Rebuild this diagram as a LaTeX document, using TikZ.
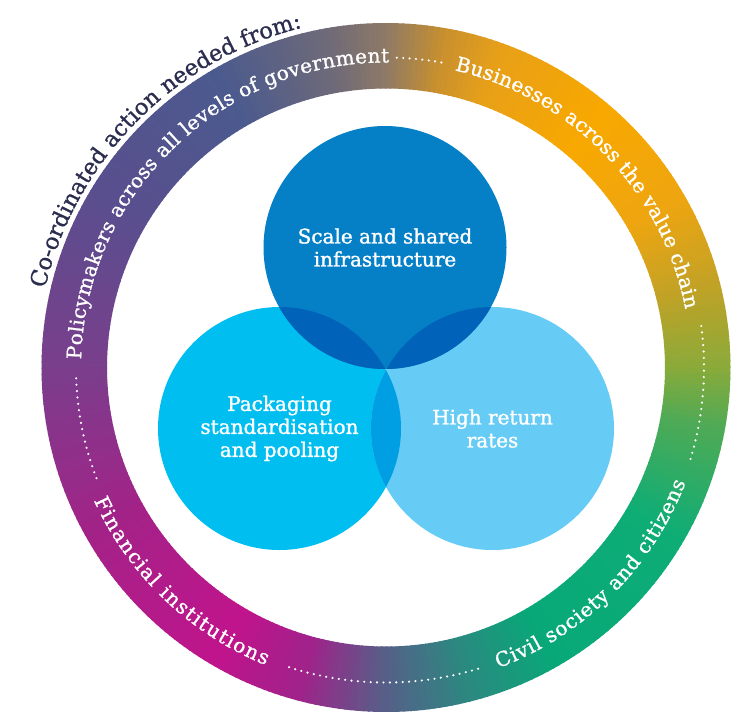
\documentclass[tikz,border=0pt]{standalone}
\usepackage{fontspec}
\usetikzlibrary{decorations.text}
\newfontfamily\slab[FakeBold=1.3]{DejaVu Serif}
\newfontfamily\slabt[FakeBold=1.0]{DejaVu Serif}
\definecolor{gA}{HTML}{556088}
\definecolor{gB}{HTML}{2A8A80}
\definecolor{gC}{HTML}{08A878}
\definecolor{gD}{HTML}{0EAD76}
\definecolor{gE}{HTML}{50AA55}
\definecolor{gF}{HTML}{8AAA3A}
\definecolor{gG}{HTML}{C4A225}
\definecolor{gH}{HTML}{EEA510}
\definecolor{gI}{HTML}{F8A800}
\definecolor{gJ}{HTML}{E8A018}
\definecolor{gK}{HTML}{C8902E}
\definecolor{gL}{HTML}{8E7A66}
\definecolor{gM}{HTML}{6E6A78}
\definecolor{gN}{HTML}{4B5A8E}
\definecolor{gO}{HTML}{5A4E8E}
\definecolor{gP}{HTML}{7A3E8C}
\definecolor{gQ}{HTML}{A42288}
\definecolor{gR}{HTML}{C0148C}
\definecolor{gS}{HTML}{A0228A}
\definecolor{topblue}{HTML}{0580C6}
\definecolor{leftblue}{HTML}{00BEF0}
\definecolor{rightblue}{HTML}{66CCF5}
\definecolor{tlover}{HTML}{0062B8}
\definecolor{lrover}{HTML}{009EE2}
\definecolor{navytext}{HTML}{2B2D4F}
\newcommand\gradseg[4]{%
  \pgfmathtruncatemacro\gsn{#2-#1}%
  \foreach \gsi in {1,...,\gsn}{%
    \pgfmathsetmacro\gsa{#1+\gsi-1}%
    \pgfmathsetmacro\gsb{#1+\gsi+0.25}%
    \pgfmathsetmacro\gsp{100*(1-(\gsi-0.5)/\gsn)}%
    \fill[#3!\gsp!#4] (\gsa:279) arc[start angle=\gsa, end angle=\gsb, radius=279]
      -- (\gsb:344.5) arc[start angle=\gsb, end angle=\gsa, radius=344.5] -- cycle;
  }%
}
\tikzset{
  venn/.style={circle, minimum size=243pt, inner sep=0pt, text=white, align=center,
    font=\slab\fontsize{20}{23}\selectfont},
  dotline/.style={white, line width=2.4pt, line cap=round, dash pattern=on 0pt off 6.4pt},
}
\begin{document}
\begin{tikzpicture}[x=1pt,y=1pt]
\path[use as bounding box] (0,0) rectangle (742,-712);
\begin{scope}[shift={(386,-367.5)}]
  \gradseg{270}{285}{gA}{gB}
  \gradseg{285}{300}{gB}{gC}
  \gradseg{300}{330}{gC}{gD}
  \gradseg{330}{350}{gD}{gE}
  \gradseg{350}{360}{gE}{gF}
  \gradseg{360}{375}{gF}{gG}
  \gradseg{375}{390}{gG}{gH}
  \gradseg{390}{410}{gH}{gI}
  \gradseg{410}{430}{gI}{gJ}
  \gradseg{430}{440}{gJ}{gK}
  \gradseg{440}{450}{gK}{gL}
  \gradseg{450}{460}{gL}{gM}
  \gradseg{460}{480}{gM}{gN}
  \gradseg{480}{510}{gN}{gO}
  \gradseg{510}{540}{gO}{gP}
  \gradseg{540}{570}{gP}{gQ}
  \gradseg{570}{600}{gQ}{gR}
  \gradseg{600}{615}{gR}{gS}
  \gradseg{615}{630}{gS}{gA}
  % dotted separators
  \draw[dotline] (88:310) arc[start angle=88, end angle=79.5, radius=310];
  \draw[dotline] (7.5:318) arc[start angle=7.5, end angle=-17.5, radius=318];
  \draw[dotline] (-73:315) arc[start angle=-73, end angle=-109, radius=315];
  \draw[dotline] (182:310) arc[start angle=182, end angle=202, radius=310];
  % ring labels
  \path[decorate, decoration={text along path, text align=fit to path,
    text={|\slabt\fontsize{20}{22}\selectfont\color{white}|Policymakers across all levels of government}}]
    (178.5:305) arc[start angle=178.5, end angle=89.5, radius=305];
  \path[decorate, decoration={text along path, text align=fit to path,
    text={|\slabt\fontsize{20}{22}\selectfont\color{white}|Businesses across the value chain}}]
    (77:305) arc[start angle=77, end angle=11, radius=305];
  \path[decorate, decoration={text along path, text align=fit to path,
    text={|\slabt\fontsize{20}{22}\selectfont\color{white}|Civil society and citizens}}]
    (-69.5:321) arc[start angle=-69.5, end angle=-21, radius=321];
  \path[decorate, decoration={text along path, text align=fit to path,
    text={|\slabt\fontsize{20}{22}\selectfont\color{white}|Financial institutions}}]
    (-155.5:321) arc[start angle=-155.5, end angle=-112, radius=321];
  \path[decorate, decoration={text along path, text align=center,
    text={|\slabt\fontsize{22.5}{26}\selectfont\color{navytext}|Co-ordinated action needed from:}}]
    (185.4:350) arc[start angle=185.4, end angle=85.4, radius=350];
\end{scope}
% Venn circles
\node[venn, fill=leftblue] (pack) at (279.5,-428.5) {Packaging\\standardisation\\and pooling};
\node[venn, fill=rightblue] (high) at (492.5,-428.5) {High return\\rates};
\node[venn, fill=topblue] (scale) at (385,-247.5) {Scale and shared\\infrastructure};
\begin{scope}
  \clip (scale.center) circle[radius=121.5];
  \fill[tlover] (pack.center) circle[radius=121.5];
  \fill[tlover] (high.center) circle[radius=121.5];
\end{scope}
\begin{scope}
  \clip (pack.center) circle[radius=121.5];
  \fill[lrover] (high.center) circle[radius=121.5];
\end{scope}
\end{tikzpicture}
\end{document}
